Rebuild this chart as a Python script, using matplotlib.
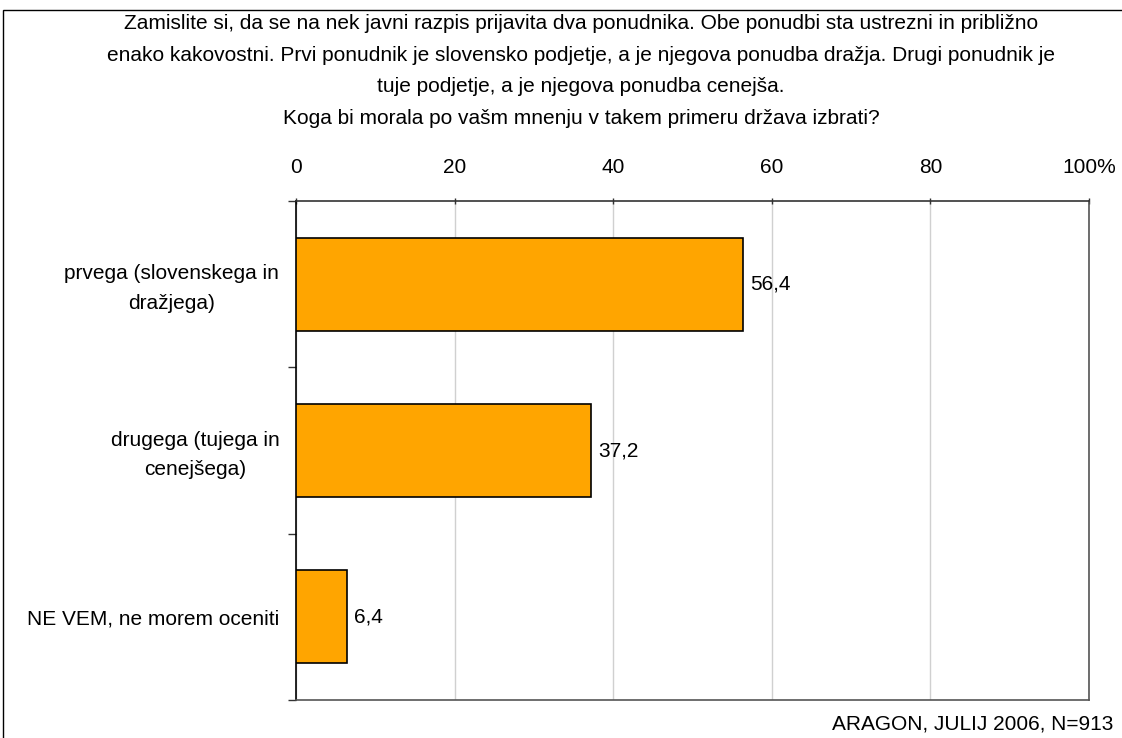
import matplotlib
matplotlib.use("Agg")
import matplotlib.pyplot as plt
import matplotlib.transforms as mtransforms
from matplotlib.patches import Rectangle
from matplotlib.ticker import FixedLocator

plt.rcParams['font.family'] = ['Liberation Sans', 'DejaVu Sans']

categories = ["prvega (slovenskega in\ndražjega)", "drugega (tujega in\ncenejšega)", "NE VEM, ne morem oceniti"]
values = [56.4, 37.2, 6.4]
value_labels = ["56,4", "37,2", "6,4"]
xticks = [0, 20, 40, 60, 80, 100]
xtick_labels = ["0", "20", "40", "60", "80", "100%"]
title = ("Zamislite si, da se na nek javni razpis prijavita dva ponudnika. Obe ponudbi sta ustrezni in približno\n"
         "enako kakovostni. Prvi ponudnik je slovensko podjetje, a je njegova ponudba dražja. Drugi ponudnik je\n"
         "tuje podjetje, a je njegova ponudba cenejša.\n"
         "Koga bi morala po vašm mnenju v takem primeru država izbrati?")
source = "ARAGON, JULIJ 2006, N=913"

FS = 15
W, H = 1122, 738
fig = plt.figure(figsize=(W / 100, H / 100), dpi=100)
fig.patch.set_facecolor('white')

# figure border (left and top visible)
fig.patches.append(Rectangle((3 / W, -0.05), 1.2, 1 - 10 / H + 0.05, transform=fig.transFigure,
                             fill=False, edgecolor='black', linewidth=1.0))

ax = fig.add_axes([296 / W, 1 - 700 / H, (1089 - 296) / W, (700 - 201) / H])
pos = list(range(len(categories)))
ax.barh(pos, values, height=0.56, color='#FFA500', edgecolor='black', linewidth=1.2, zorder=3)
for p, v, lab in zip(pos, values, value_labels):
    ax.annotate(lab, (v, p), xytext=(5, 0), textcoords='offset points',
                va='center', ha='left', fontsize=FS)

ax.set_xlim(0, 100)
ax.set_ylim(len(categories) - 0.5, -0.5)
ax.xaxis.tick_top()
ax.set_xticks(xticks)
ax.set_xticklabels(xtick_labels, fontsize=FS)
ax.tick_params(axis='x', length=4, width=1, pad=15, direction='inout', color='#333333')
ax.grid(axis='x', color='#d0d0d0', linewidth=1, zorder=0)

ax.set_yticks(pos)
ax.set_yticklabels(categories, fontsize=FS, ha='right', multialignment='center', linespacing=1.72)
ax.tick_params(axis='y', which='major', length=0, pad=12)
ax.yaxis.set_minor_locator(FixedLocator([-0.5, 0.5, 1.5, 2.5]))
ax.tick_params(axis='y', which='minor', length=6, width=1, color='#333333')
shift = mtransforms.ScaledTranslation(0, 3 / 100, fig.dpi_scale_trans)
for lbl in ax.get_yticklabels():
    if "\n" in lbl.get_text():
        lbl.set_transform(lbl.get_transform() + shift)

ax.spines['left'].set_color('black')
ax.spines['top'].set_color('#333333')
ax.spines['right'].set_color('#555555')
ax.spines['bottom'].set_color('#555555')
for s in ax.spines.values():
    s.set_linewidth(1.2)

fig.text(581 / W, 1 - 14 / H, title, ha='center', va='top', fontsize=FS, linespacing=1.85)
fig.text(1113 / W, 1 - 724 / H, source, ha='right', va='center', fontsize=FS)

fig.savefig("out.png", dpi=100, facecolor='white')
